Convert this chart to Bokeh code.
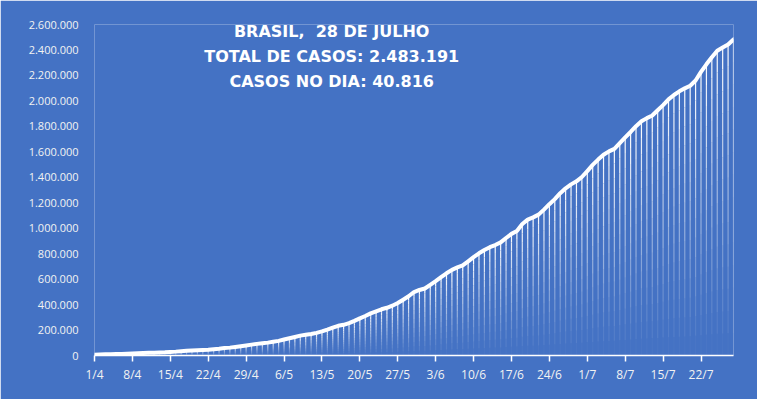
import numpy as np
import pandas as pd
from bokeh.plotting import figure
from bokeh.models import Range1d, FixedTicker, CustomJSTickFormatter, Label, ColumnDataSource
from bokeh.embed import file_html
from bokeh.resources import INLINE

# cumulative confirmed cases in Brazil, 1 April .. 28 July 2020
cases = [
    6836, 8044, 9056, 10360, 11130, 12056, 13717, 15927, 17857, 19638,
    20727, 22169, 23430, 25262, 28320, 30425, 33682, 36599, 38654, 40581,
    43079, 45757, 49492, 52995, 58509, 61888, 66501, 71886, 78162, 85380,
    91299, 96396, 101147, 107780, 114715, 125218, 135106, 145328, 155939, 162699,
    168331, 177589, 188974, 202918, 218223, 233142, 241080, 254220, 271628, 291579,
    310087, 330890, 347398, 363211, 374898, 391222, 411821, 438238, 465166, 498440,
    514849, 526447, 555383, 584016, 614941, 645771, 672846, 691758, 707412, 739503,
    772416, 802828, 828810, 850514, 867624, 888271, 923189, 955377, 978142, 1032913,
    1067579, 1085038, 1106470, 1145906, 1188631, 1228114, 1274974, 1313667, 1344143, 1368195,
    1402041, 1448753, 1496858, 1539081, 1577004, 1603055, 1623284, 1668589, 1713160, 1755779,
    1800827, 1839850, 1864681, 1884967, 1926824, 1966748, 2012151, 2046328, 2074860, 2098389,
    2118646, 2159654, 2227514, 2287475, 2343366, 2394513, 2419091, 2442375, 2483191,
]
dates = [f"{d.day}/{d.month}" for d in pd.date_range("2020-04-01", "2020-07-28")]
tick_labels = ["1/4", "8/4", "15/4", "22/4", "29/4", "6/5", "13/5", "20/5", "27/5",
               "3/6", "10/6", "17/6", "24/6", "1/7", "8/7", "15/7", "22/7"]
y_ticks = list(range(0, 2600001, 200000))
title_lines = ["BRASIL,\u00a0 28 DE JULHO", "TOTAL DE CASOS: 2.483.191", "CASOS NO DIA: 40.816"]

BG = "#4472C4"
FONT = "Open Sans"

x = np.arange(len(cases))
v = np.array(cases, dtype=float)

p = figure(width=757, height=399, output_backend="svg", toolbar_location=None,
           x_range=Range1d(0, len(cases) - 1), y_range=Range1d(0, 2600000),
           min_border_left=94, min_border_right=24, min_border_top=24, min_border_bottom=44)
p.background_fill_color = BG
p.border_fill_color = BG
p.outline_line_color = None
p.grid.visible = False

# drop lines with fading gradient (transparent at bottom, white at top)
N = 14
xs, y0s, y1s, al = [], [], [], []
for k in range(N):
    xs.extend(x)
    y0s.extend(v * k / N)
    y1s.extend(v * (k + 1) / N)
    al.extend([((k + 0.5) / N) ** 1.1] * len(v))
seg = ColumnDataSource(dict(x=xs, y0=y0s, y1=y1s, a=al))
p.segment(x0="x", y0="y0", x1="x", y1="y1", source=seg, line_color="white",
          line_alpha="a", line_width=1.2)

p.line(x, v, line_color="white", line_width=4, line_join="round", line_cap="round")

# x axis
xa = p.xaxis[0]
xa.ticker = FixedTicker(ticks=[dates.index(t) for t in tick_labels])
xa.major_label_overrides = {dates.index(t): t for t in tick_labels}
xa.axis_line_color = "white"
xa.axis_line_width = 1.5
xa.major_tick_line_color = "white"
xa.major_tick_line_width = 1.5
xa.major_tick_in = 0
xa.major_tick_out = 6
xa.minor_tick_line_color = None
xa.major_label_standoff = 4
xa.major_label_text_color = "#F2F2F2"
xa.major_label_text_font = FONT
xa.major_label_text_font_size = "12px"

# y axis
ya = p.yaxis[0]
ya.ticker = FixedTicker(ticks=y_ticks)
ya.formatter = CustomJSTickFormatter(code="""
    return Math.round(tick).toString().replace(/\\B(?=(\\d{3})+(?!\\d))/g, '.');
""")
ya.axis_line_color = None
ya.major_tick_line_color = None
ya.minor_tick_line_color = None
ya.major_label_standoff = 10
ya.major_label_text_color = "#F2F2F2"
ya.major_label_text_font = FONT
ya.major_label_text_font_size = "11px"

# title block
for i, t in enumerate(title_lines):
    p.add_layout(Label(x=43.8, y=2545000 - i * 196000, text=t, text_align="center",
                       text_baseline="middle", text_color="white", text_font="DejaVu Sans",
                       text_font_style="bold", text_font_size="16px"))

open("out.html", "w").write(file_html(p, INLINE))
